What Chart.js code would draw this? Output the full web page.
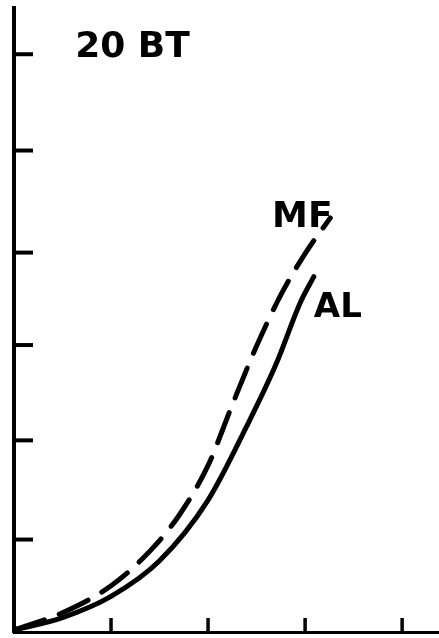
<!DOCTYPE html>
<html>
<head>
<meta charset="utf-8">
<script src="https://cdn.jsdelivr.net/npm/chart.js@4.4.0/dist/chart.umd.min.js"></script>
<style>
  html, body { margin: 0; padding: 0; background: #fff; }
  #wrap { width: 439px; height: 638px; position: relative; }
</style>
</head>
<body>
<div id="wrap"><canvas id="c"></canvas></div>
<script>
// ---- data ----
const alX = [0, 0.5, 1.0, 1.5, 2.0, 2.4, 2.7, 2.95, 3.09];
const alY = [0.02, 0.15, 0.37, 0.74, 1.37, 2.14, 2.78, 3.42, 3.69];

const mfX = [0, 0.5, 1.0, 1.4, 1.7, 2.0, 2.25, 2.5, 2.75, 3.0, 3.26];
const mfY = [0.02, 0.20, 0.48, 0.84, 1.21, 1.73, 2.36, 2.97, 3.50, 3.93, 4.30];

const xTicks = [1, 2, 3, 4];
const yTicks = [0.96, 1.99, 2.98, 3.94, 5.0, 6.0];

const labelTexts = ['20 BT', 'MF', 'AL'];
const labelX = [0.63, 2.66, 3.09];
const labelY = [5.97, 4.21, 3.27];

const xMax = 4.38;
const yMax = 6.48;

const toPts = (xs, ys) => xs.map((x, i) => ({ x: x, y: ys[i] }));

const tickPlugin = {
  id: 'innerTicks',
  afterDraw(chart) {
    const ctx = chart.ctx;
    const xs = chart.scales.x, ys = chart.scales.y;
    const left = chart.chartArea.left, bottom = chart.chartArea.bottom;
    ctx.save();
    ctx.strokeStyle = '#000';
    ctx.lineCap = 'butt';
    ctx.lineWidth = 4;
    yTicks.forEach(v => {
      const py = ys.getPixelForValue(v);
      ctx.beginPath();
      ctx.moveTo(left, py);
      ctx.lineTo(left + 19, py);
      ctx.stroke();
    });
    ctx.lineWidth = 3.5;
    xTicks.forEach(v => {
      const px = xs.getPixelForValue(v);
      ctx.beginPath();
      ctx.moveTo(px, bottom);
      ctx.lineTo(px, bottom - 14);
      ctx.stroke();
    });
    ctx.fillStyle = '#000';
    ctx.textBaseline = 'alphabetic';
    ctx.textAlign = 'left';
    labelTexts.forEach((t, i) => {
      const size = t === 'AL' ? 34 : 36;
      ctx.font = 'bold ' + size + 'px "DejaVu Sans"';
      ctx.fillText(t, xs.getPixelForValue(labelX[i]), ys.getPixelForValue(labelY[i]));
    });
    ctx.restore();
  }
};

new Chart(document.getElementById('c'), {
  type: 'line',
  data: {
    datasets: [
      {
        label: 'AL',
        data: toPts(alX, alY),
        borderColor: '#000',
        borderWidth: 5,
        pointRadius: 0,
        cubicInterpolationMode: 'monotone',
        borderCapStyle: 'round',
        fill: false
      },
      {
        label: 'MF',
        data: toPts(mfX, mfY),
        borderColor: '#000',
        borderWidth: 5,
        borderDash: [32, 16],
        borderCapStyle: 'round',
        pointRadius: 0,
        cubicInterpolationMode: 'monotone',
        fill: false
      }
    ]
  },
  options: {
    responsive: true,
    maintainAspectRatio: false,
    animation: false,
    layout: { padding: { left: 14, right: 0, top: 8, bottom: 6 } },
    plugins: { legend: { display: false }, tooltip: { enabled: false }, title: { display: false } },
    scales: {
      x: {
        type: 'linear', min: 0, max: xMax,
        ticks: { display: false },
        grid: { display: true, drawOnChartArea: false, drawTicks: false },
        border: { display: true, color: '#000', width: 3 }
      },
      y: {
        type: 'linear', min: 0, max: yMax,
        ticks: { display: false },
        grid: { display: true, drawOnChartArea: false, drawTicks: false },
        border: { display: true, color: '#000', width: 4 }
      }
    }
  },
  plugins: [tickPlugin]
});
</script>
</body>
</html>
